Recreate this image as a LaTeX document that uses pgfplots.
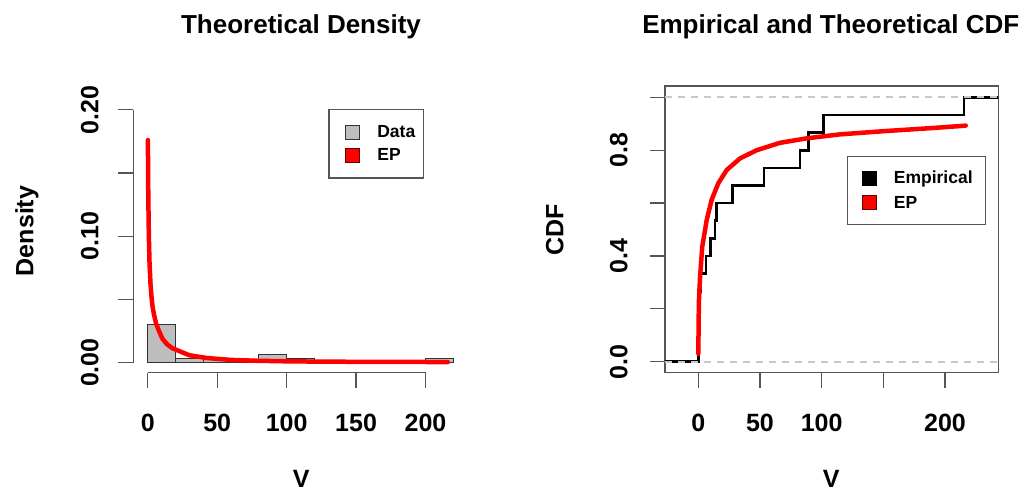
\documentclass[border=0pt]{standalone}
\usepackage{pgfplots}
\pgfplotsset{compat=1.18}
\usepackage{fontspec}
\setmainfont{Liberation Sans}
\definecolor{histgray}{RGB}{190,190,190}
\definecolor{axgray}{RGB}{85,85,85}
\definecolor{dashgray}{RGB}{200,200,200}
\pgfplotsset{
  rstyle/.style={
    scale only axis,
    tick align=outside,
    major tick length=15pt,
    tick style={axgray, line width=1.2pt},
    tick label style={font=\bfseries\fontsize{25}{30}\selectfont, inner sep=0pt},
    xticklabel style={anchor=base},
    yticklabel style={rotate=90, anchor=base},
    label style={font=\bfseries\fontsize{25}{30}\selectfont, inner sep=0pt},
    title style={font=\bfseries\fontsize{26}{30}\selectfont, inner sep=0pt, anchor=base},
    legend style={font=\bfseries\fontsize{17.5}{20}\selectfont, draw=axgray, line width=1.2pt,
      inner xsep=0pt, column sep=0pt, row sep=0pt, anchor=north west,
      nodes={draw=none, inner sep=0pt}},
    legend cell align=left,
  }
}
\begin{document}
\begin{tikzpicture}[x=1pt,y=1pt]
\path (0,0) rectangle (1027,494);

% ---------------- Left: Theoretical Density ----------------
\begin{axis}[rstyle,
  at={(133.3pt,121.3pt)}, anchor=south west,
  width=335.7pt, height=273.1pt,
  xmin=-10.4, xmax=231.3, ymin=-0.008, ymax=0.208,
  axis lines*=left, axis line style={draw=none},
  clip=false,
  xtick={0,50,100,150,200}, xticklabels={0,50,100,150,200},
  ytick={0,0.05,0.1,0.15,0.2}, yticklabels={0.00,,0.10,,0.20},
  xticklabel shift=44pt, yticklabel shift=20pt,
  title={Theoretical Density}, title style={at={(axis description cs:0.4996,1.221)}},
  xlabel={V}, xlabel style={at={(axis description cs:0.5,-0.4222)}, anchor=base},
  ylabel={Density}, ylabel style={at={(axis description cs:-0.2979,0.519)}, anchor=base},
  legend style={at={(axis description cs:0.581,0.9656)}, inner ysep=11.5pt},
]
\draw[axgray, line width=1.2pt] (axis cs:0,-0.008) -- (axis cs:200,-0.008);
\draw[axgray, line width=1.2pt] (axis cs:-10.4,0) -- (axis cs:-10.4,0.2);
\addplot[ybar interval, fill=histgray, draw=black!80, line width=1pt, forget plot] coordinates {
(0,0.03)(20,0.003333)(40,0.003333)(60,0)(80,0.006667)(100,0.003333)(120,0)(140,0)(160,0)(180,0)(200,0.003333)(220,0)};
\addplot[red, line width=4.5pt, line join=round, line cap=round, forget plot] coordinates {
(0.1,0.176)(0.4,0.131)(0.8,0.100)(1.3,0.078)(2.0,0.062)(2.7,0.052)(3.5,0.044)(4.5,0.038)(6.0,0.031)(8.1,0.025)(10.5,0.019)(13.8,0.0146)(17.5,0.0115)(22.2,0.0093)(30,0.0058)(42.6,0.0036)(60,0.0021)(80,0.0014)(100,0.0010)(130,0.0007)(160,0.0006)(190,0.0005)(216,0.0004)};
\addlegendimage{legend image code/.code={\path[draw=none,fill=none] (0pt,-11.35pt) rectangle (48.4pt,11.35pt); \draw[fill=histgray, draw=black!80, line width=1pt] (16.5pt,-7pt) rectangle (30.5pt,7pt);}}
\addlegendentry[text width=46pt]{Data}
\addlegendimage{legend image code/.code={\path[draw=none,fill=none] (0pt,-11.35pt) rectangle (48.4pt,11.35pt); \draw[fill=red, draw=black!60!red, line width=1pt] (16.5pt,-7pt) rectangle (30.5pt,7pt);}}
\addlegendentry[text width=46pt]{EP}
\end{axis}

% ---------------- Right: Empirical and Theoretical CDF ----------------
\begin{axis}[rstyle,
  at={(665pt,121.3pt)}, anchor=south west,
  width=333.3pt, height=286.7pt,
  xmin=-27, xmax=243.2, ymin=-0.0416, ymax=1.043,
  axis line style={axgray, line width=1.3pt},
  tick pos=left,
  xtick={0,50,100,150,200}, xticklabels={0,50,100,,200},
  ytick={0,0.2,0.4,0.6,0.8,1}, yticklabels={0.0,,0.4,,0.8,},
  xticklabel shift=44pt, yticklabel shift=22.7pt,
  title={Empirical and Theoretical CDF}, title style={at={(axis description cs:0.4974,1.1632)}},
  xlabel={V}, xlabel style={at={(axis description cs:0.4985,-0.4021)}, anchor=base},
  ylabel={CDF}, ylabel style={at={(axis description cs:-0.3051,0.4977)}, anchor=base},
  legend style={at={(axis description cs:0.545,0.756)}, inner ysep=9.6pt},
]
\addplot[const plot, black, line width=2.6pt, forget plot] coordinates {
(-40,0)(0,0.2667)(2,0.3333)(6.2,0.4)(10,0.4667)(13.5,0.5333)(14.9,0.6)(27.9,0.6667)(53.3,0.7333)(82.4,0.8)(89.2,0.8667)(101.3,0.9333)(215.3,1)(260,1)};
\addplot[red, line width=4.5pt, line join=round, line cap=round, forget plot] coordinates {
(0.05,0.03)(0.2,0.13)(0.5,0.23)(1.4,0.32)(3.2,0.435)(6.8,0.536)(10.8,0.612)(16.2,0.675)(23,0.725)(33.8,0.769)(47.3,0.80)(66.2,0.828)(87.9,0.845)(114.9,0.86)(150,0.872)(190,0.884)(216.8,0.893)};
\addplot[dashgray, line width=2pt, dash pattern=on 6.5pt off 6.5pt, forget plot] coordinates {(-27,0)(243.2,0)};
\addplot[dashgray, line width=2pt, dash pattern=on 6.5pt off 6.5pt, forget plot] coordinates {(-27,1)(243.2,1)};
\addlegendimage{legend image code/.code={\path[draw=none,fill=none] (0pt,-12.2pt) rectangle (46.6pt,12.2pt); \draw[fill=black, draw=black, line width=1pt] (15.6pt,-7pt) rectangle (29.6pt,7pt);}}
\addlegendentry[text width=92pt]{Empirical}
\addlegendimage{legend image code/.code={\path[draw=none,fill=none] (0pt,-12.2pt) rectangle (46.6pt,12.2pt); \draw[fill=red, draw=black!60!red, line width=1pt] (15.6pt,-7pt) rectangle (29.6pt,7pt);}}
\addlegendentry[text width=92pt]{EP}
\end{axis}
\end{tikzpicture}
\end{document}
